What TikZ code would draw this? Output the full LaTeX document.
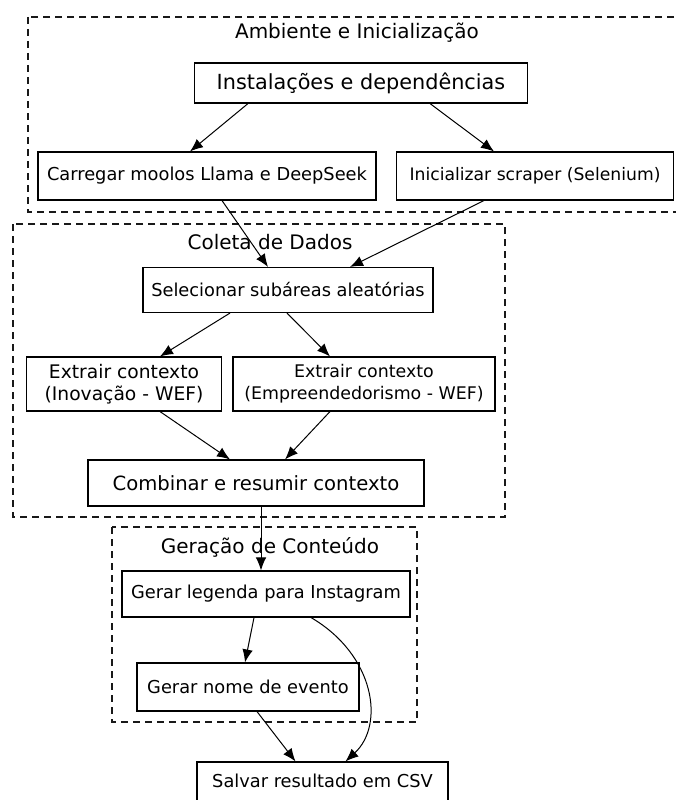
\documentclass[tikz,border=0pt]{standalone}
\usepackage{fontspec}
\setmainfont{DejaVu Sans}
\usetikzlibrary{arrows.meta,calc}

\begin{document}
\begin{tikzpicture}[x=1pt,y=-1pt,
   box/.style={draw,rectangle,inner sep=0pt,line width=1.1pt,align=center,font=\fontsize{17.8}{22}\selectfont},
   cluster/.style={draw,dashed,dash pattern=on 7pt off 5pt,line width=1.1pt,gray!20!black},
   title/.style={font=\fontsize{20}{24}\selectfont},
   arr/.style={-{Latex[length=13pt,width=10.5pt]},line width=1pt}]
\useasboundingbox (0,0) rectangle (675,800);
% clusters
\draw[cluster] (28,17) rectangle (690,212);
\node[title] (tamb) at (357,33) {Ambiente e Inicialização};
\draw[cluster] (13,224) rectangle (505,517);
\node[title] (tcol) at (270,242) {Coleta de Dados};
\draw[cluster] (112,527) rectangle (417,722);
\node[title] (tger) at (270,547) {Geração de Conteúdo};
% nodes
\node[box,minimum width=333pt,minimum height=40pt,font=\fontsize{20.8}{25}\selectfont] (inst) at (361,83) {Instalações e dependências};
\node[box,minimum width=338pt,minimum height=48pt] (carregar) at (207,176) {Carregar moolos Llama e DeepSeek};
\node[box,minimum width=277pt,minimum height=48pt,font=\fontsize{17.2}{21}\selectfont] (inic) at (535,176) {Inicializar scraper (Selenium)};
\node[box,minimum width=290pt,minimum height=45pt] (selec) at (288,290) {Selecionar subáreas aleatórias};
\node[box,minimum width=195pt,minimum height=54pt,font=\fontsize{18.7}{22}\selectfont] (extr1) at (124,384) {Extrair contexto\\(Inovação - WEF)};
\node[box,minimum width=262pt,minimum height=54pt,font=\fontsize{17.4}{22}\selectfont] (extr2) at (364,384) {Extrair contexto\\(Empreendedorismo - WEF)};
\node[box,minimum width=336pt,minimum height=46pt,font=\fontsize{19.6}{23}\selectfont] (comb) at (256,483) {Combinar e resumir contexto};
\node[box,minimum width=288pt,minimum height=46pt] (legenda) at (266,594) {Gerar legenda para Instagram};
\node[box,minimum width=222pt,minimum height=48pt] (nome) at (248,687) {Gerar nome de evento};
\node[box,minimum width=251pt,minimum height=50pt] (salvar) at (322.5,787) {};
\node[font=\fontsize{17.8}{22}\selectfont] (tsalvar) at (322.5,781) {Salvar resultado em CSV};
% edges
\draw[arr] ([xshift=-113pt]inst.south) -- ([xshift=-17pt]carregar.north);
\draw[arr] ([xshift=69pt]inst.south) -- ([xshift=-41pt]inic.north);
\draw[arr] ([xshift=15pt]carregar.south) -- ([xshift=-20pt]selec.north);
\draw[arr] ([xshift=-51pt]inic.south) -- ([xshift=62pt]selec.north);
\draw[arr] ([xshift=-58pt]selec.south) -- ([xshift=36pt]extr1.north);
\draw[arr] ([xshift=-1pt]selec.south) -- ([xshift=-34pt]extr2.north);
\draw[arr] ([xshift=36pt]extr1.south) -- ([xshift=-26pt]comb.north);
\draw[arr] ([xshift=-34pt]extr2.south) -- ([xshift=29pt]comb.north);
\draw[arr] ([xshift=5pt]comb.south) -- ([xshift=-5pt]legenda.north);
\draw[arr] ([xshift=-12pt]legenda.south) -- ([xshift=-3pt]nome.north);
\draw[arr] ([xshift=9pt]nome.south) -- ([xshift=-27pt]salvar.north);
\draw[arr] ([xshift=45pt]legenda.south) .. controls (375,655) and (385,725) .. ([xshift=23pt]salvar.north);
\end{tikzpicture}
\end{document}
